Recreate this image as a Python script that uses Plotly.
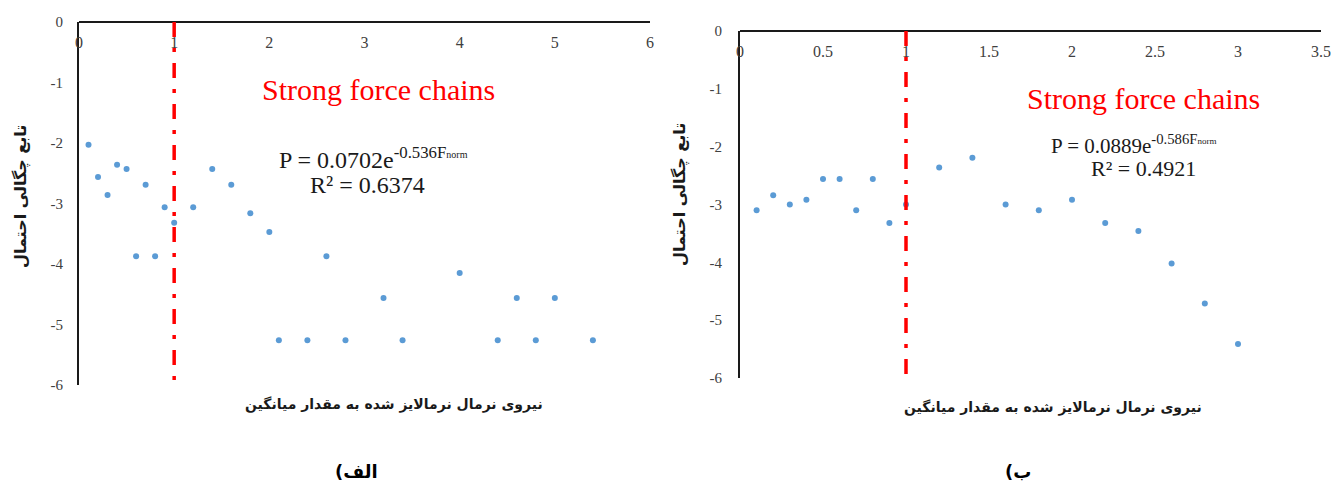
import plotly.graph_objects as go

# Panel (الف): normalised normal force vs log probability density
force_a = [0.1, 0.2, 0.3, 0.4, 0.5, 0.6, 0.7, 0.8, 0.9, 1.0, 1.2, 1.4, 1.6, 1.8,
           2.0, 2.1, 2.4, 2.6, 2.8, 3.2, 3.4, 4.0, 4.4, 4.6, 4.8, 5.0, 5.4]
density_a = [-2.03, -2.56, -2.86, -2.36, -2.43, -3.87, -2.69, -3.87, -3.06, -3.32,
             -3.06, -2.43, -2.69, -3.16, -3.47, -5.26, -5.26, -3.87, -5.26, -4.56,
             -5.26, -4.15, -5.26, -4.56, -5.26, -4.56, -5.26]

# Panel (ب)
force_b = [0.1, 0.2, 0.3, 0.4, 0.5, 0.6, 0.7, 0.8, 0.9, 1.0, 1.2, 1.4, 1.6, 1.8,
           2.0, 2.2, 2.4, 2.6, 2.8, 3.0]
density_b = [-3.10, -2.84, -3.00, -2.92, -2.56, -2.56, -3.10, -2.56, -3.32, -3.00,
             -2.36, -2.19, -3.00, -3.10, -2.92, -3.32, -3.46, -4.02, -4.71, -5.41]

xticks_a = [0, 1, 2, 3, 4, 5, 6]
xticks_b = [0, 0.5, 1, 1.5, 2, 2.5, 3, 3.5]
yticks = [0, -1, -2, -3, -4, -5, -6]
threshold = 1.0

fit_a = ("P = 0.0702e<sup>-0.536F<span style='font-size:10px'>norm</span></sup>", "R² = 0.6374")
fit_b = ("P = 0.0889e<sup>-0.586F<span style='font-size:9px'>norm</span></sup>", "R² = 0.4921")
label_strong = "Strong force chains"
x_title = "نیروی نرمال نرمالایز شده به مقدار میانگین"
y_title = "تابع چگالی احتمال"
captions = ["(الف", "(ب"]

W, H = 1335, 482
def px(x):
    return x / W
def py(y):
    return 1 - y / H

MARK = "#5B9BD5"
SERIF = "Liberation Serif"
ARABIC = "DejaVu Sans"
INK = "#1a1a1a"

fig = go.Figure()
fig.add_trace(go.Scatter(x=force_a, y=density_a, mode="markers",
                         marker=dict(color=MARK, size=6), xaxis="x", yaxis="y",
                         showlegend=False))
fig.add_trace(go.Scatter(x=force_b, y=density_b, mode="markers",
                         marker=dict(color=MARK, size=6), xaxis="x2", yaxis="y2",
                         showlegend=False))

# x axis sits on the y=0 line at the top of each panel, labels hang below it
def xaxis(domain, rng, ticks, top):
    return dict(domain=domain, range=rng, tickvals=ticks,
                ticktext=[f"{t:g}" for t in ticks], side="bottom",
                anchor="free", position=top, ticklabelstandoff=6,
                showline=True, linecolor=INK, linewidth=2, automargin=False,
                showgrid=False, zeroline=False, ticks="",
                tickfont=dict(family=SERIF, size=16, color="#404040"))

def yaxis(domain, anchor, standoff):
    return dict(domain=domain, range=[-6, 0], tickvals=yticks,
                ticktext=[f"{t:g}" for t in yticks],
                showline=True, linecolor=INK, linewidth=2, automargin=False,
                showgrid=False, zeroline=False, ticks="", anchor=anchor,
                ticklabelstandoff=standoff,
                tickfont=dict(family=SERIF, size=15, color="#404040"))

fig.update_layout(
    width=W, height=H, margin=dict(l=0, r=0, t=0, b=0, autoexpand=False),
    plot_bgcolor="white", paper_bgcolor="white",
    xaxis=xaxis([px(79), px(650)], [0, 6], xticks_a, py(22)),
    yaxis=yaxis([py(385), py(22)], "x", 11),
    xaxis2=xaxis([px(740), px(1321)], [0, 3.5], xticks_b, py(31)),
    yaxis2=yaxis([py(378), py(31)], "x2", 13),
)

# dash-dot threshold line at F/<F> = 1
for xr, yr in (("x", "y"), ("x2", "y2")):
    fig.add_shape(type="line", xref=xr, yref=yr, x0=threshold, x1=threshold,
                  y0=0, y1=-6,
                  line=dict(color="#FF0000", width=3.5, dash="15px,11px,4px,11px"))

ann = []
# panel texts
for xr, yr, sx, sy, fit, p1, p2 in (
        ("x", "y", 3.15, -1.12, fit_a, (3.09, -2.25, 24), (3.03, -2.69, 24)),
        ("x2", "y2", 2.43, -1.16, fit_b, (2.37, -1.97, 21), (2.43, -2.37, 22))):
    ann.append(dict(xref=xr, yref=yr, x=sx, y=sy, text=label_strong, showarrow=False,
                    xanchor="center", yanchor="middle",
                    font=dict(family=SERIF, size=30, color="#FF0000")))
    ann.append(dict(xref=xr, yref=yr, x=p1[0], y=p1[1], text=fit[0], showarrow=False,
                    xanchor="center", yanchor="middle",
                    font=dict(family=SERIF, size=p1[2], color=INK)))
    ann.append(dict(xref=xr, yref=yr, x=p2[0], y=p2[1], text=fit[1], showarrow=False,
                    xanchor="center", yanchor="middle",
                    font=dict(family=SERIF, size=p2[2], color=INK)))

# axis titles and captions
for cx, cy in ((394, 404), (1053, 407)):
    ann.append(dict(xref="paper", yref="paper", x=px(cx), y=py(cy), text=x_title,
                    xanchor="center", yanchor="middle", showarrow=False,
                    font=dict(family=ARABIC, size=14, weight="bold", color=INK)))
for cx, cy in ((21, 197), (680, 195)):
    ann.append(dict(xref="paper", yref="paper", x=px(cx), y=py(cy), text=y_title,
                    xanchor="center", yanchor="middle", textangle=-90, showarrow=False,
                    font=dict(family=ARABIC, size=16, weight="bold", color=INK)))
for (cx, cy), cap in zip(((356, 471), (1018, 471)), captions):
    ann.append(dict(xref="paper", yref="paper", x=px(cx), y=py(cy), text=cap,
                    xanchor="center", yanchor="middle", showarrow=False,
                    font=dict(family=ARABIC, size=18, weight="bold", color="#000000")))

fig.update_layout(annotations=ann)
fig.write_html("out.html")
